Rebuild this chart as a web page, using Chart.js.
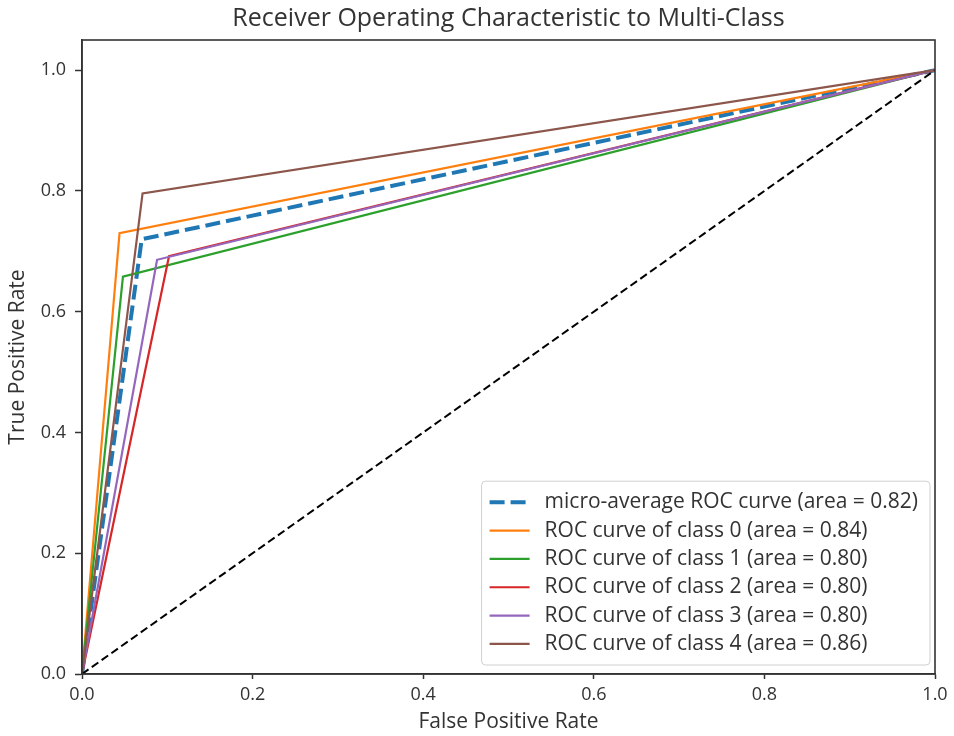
<!DOCTYPE html>
<html>
<head>
<meta charset="utf-8">
<script src="https://cdn.jsdelivr.net/npm/chart.js@4.4.1/dist/chart.umd.min.js"></script>
<style>
  html, body { margin: 0; padding: 0; background: #fff; }
  #wrap { width: 954px; height: 736px; }
</style>
</head>
<body>
<div id="wrap"><canvas id="roc"></canvas></div>
<script>
// ROC curve points (false positive rate / true positive rate)
const fprMicro = [0, 0.07, 1];
const tprMicro = [0, 0.72, 1];
const fprClass0 = [0, 0.044, 1];
const tprClass0 = [0, 0.73, 1];
const fprClass1 = [0, 0.048, 1];
const tprClass1 = [0, 0.658, 1];
const fprClass2 = [0, 0.102, 1];
const tprClass2 = [0, 0.692, 1];
const fprClass3 = [0, 0.088, 1];
const tprClass3 = [0, 0.686, 1];
const fprClass4 = [0, 0.071, 1];
const tprClass4 = [0, 0.796, 1];
const diagX = [0, 1];
const diagY = [0, 1];

const curveLabels = [
  'micro-average ROC curve (area = 0.82)',
  'ROC curve of class 0 (area = 0.84)',
  'ROC curve of class 1 (area = 0.80)',
  'ROC curve of class 2 (area = 0.80)',
  'ROC curve of class 3 (area = 0.80)',
  'ROC curve of class 4 (area = 0.86)'
];
const xTicks = [0, 0.2, 0.4, 0.6, 0.8, 1.0];
const yTicks = [0, 0.2, 0.4, 0.6, 0.8, 1.0];

const FONT = '"Open Sans", sans-serif';
const TXT = '#333';

function pts(xs, ys) {
  return xs.map((x, i) => ({ x: x, y: ys[i] }));
}

const curves = [
  { x: fprMicro, y: tprMicro, color: '#1f77b4', width: 4, dash: [15, 6] },
  { x: fprClass0, y: tprClass0, color: '#ff7f0e', width: 2.2, dash: [] },
  { x: fprClass1, y: tprClass1, color: '#2ca02c', width: 2.2, dash: [] },
  { x: fprClass2, y: tprClass2, color: '#d62728', width: 2.2, dash: [] },
  { x: fprClass3, y: tprClass3, color: '#9467bd', width: 2.2, dash: [] },
  { x: fprClass4, y: tprClass4, color: '#8c564b', width: 2.2, dash: [] }
];

const datasets = curves.map((c, i) => ({
  label: curveLabels[i],
  data: pts(c.x, c.y),
  borderColor: c.color,
  borderWidth: c.width,
  borderDash: c.dash,
  pointRadius: 0,
  fill: false,
  tension: 0,
  order: 10 - i
}));
datasets.push({
  label: '',
  data: pts(diagX, diagY),
  borderColor: '#000',
  borderWidth: 2,
  borderDash: [8, 4],
  pointRadius: 0,
  fill: false,
  order: 1
});

// frame, title and in-plot legend
const decor = {
  id: 'decor',
  afterDraw(chart) {
    const ctx = chart.ctx;
    const a = chart.chartArea;
    ctx.save();
    ctx.strokeStyle = '#333';
    ctx.lineWidth = 1.6;
    ctx.strokeRect(a.left, a.top, a.right - a.left, a.bottom - a.top);

    ctx.fillStyle = TXT;
    ctx.font = '25px ' + FONT;
    ctx.textAlign = 'center';
    ctx.textBaseline = 'middle';
    ctx.fillText('Receiver Operating Characteristic to Multi-Class', (a.left + a.right) / 2, 19);

    // legend
    ctx.font = '21px ' + FONT;
    const items = chart.data.datasets.filter(d => d.label);
    let tw = 0;
    items.forEach(d => { tw = Math.max(tw, ctx.measureText(d.label).width); });
    const rowH = 28.3;
    const w = 8 + 40 + 15 + tw + 12;
    const h = items.length * rowH + 14;
    const x0 = a.right - 5 - w;
    const y0 = a.bottom - 9 - h;
    ctx.beginPath();
    ctx.roundRect(x0, y0, w, h, 4);
    ctx.fillStyle = 'rgba(255,255,255,0.8)';
    ctx.fill();
    ctx.strokeStyle = '#d0d0d0';
    ctx.lineWidth = 1;
    ctx.stroke();
    items.forEach((d, i) => {
      const cy = y0 + 7 + rowH * (i + 0.5);
      ctx.beginPath();
      ctx.setLineDash(d.borderDash || []);
      ctx.strokeStyle = d.borderColor;
      ctx.lineWidth = d.borderWidth;
      ctx.moveTo(x0 + 8, cy);
      ctx.lineTo(x0 + 48, cy);
      ctx.stroke();
      ctx.setLineDash([]);
      ctx.fillStyle = TXT;
      ctx.textAlign = 'left';
      ctx.fillText(d.label, x0 + 63, cy);
    });
    ctx.restore();
  }
};

new Chart(document.getElementById('roc'), {
  type: 'line',
  data: { datasets: datasets },
  options: {
    responsive: true,
    maintainAspectRatio: false,
    animation: false,
    layout: { padding: { top: 40, right: 19, bottom: 0, left: 0 } },
    plugins: {
      legend: { display: false },
      tooltip: { enabled: false }
    },
    scales: {
      x: {
        type: 'linear',
        min: 0,
        max: 1,
        afterBuildTicks: s => { s.ticks = xTicks.map(v => ({ value: v })); },
        afterFit: s => { s.height = 62; },
        grid: { drawOnChartArea: false, drawTicks: true, tickLength: 5, tickColor: '#333', tickWidth: 1.5 },
        border: { display: true, color: '#333', width: 1.6 },
        ticks: { color: TXT, padding: 5, font: { family: FONT, size: 18 }, callback: v => v.toFixed(1), maxRotation: 0 },
        title: { display: true, text: 'False Positive Rate', color: TXT, font: { family: FONT, size: 21 }, padding: { top: 0, bottom: 1 } }
      },
      y: {
        type: 'linear',
        min: 0,
        max: 1.05,
        afterBuildTicks: s => { s.ticks = yTicks.map(v => ({ value: v })); },
        afterFit: s => { s.width = 82; },
        grid: { drawOnChartArea: false, drawTicks: true, tickLength: 7, tickColor: '#333', tickWidth: 1.5 },
        border: { display: true, color: '#333', width: 1.6 },
        ticks: { color: TXT, padding: 9, font: { family: FONT, size: 18 }, callback: v => v.toFixed(1) },
        title: { display: true, text: 'True Positive Rate', color: TXT, font: { family: FONT, size: 21 }, padding: { top: 5, bottom: 0 } }
      }
    }
  },
  plugins: [decor]
});
</script>
</body>
</html>
